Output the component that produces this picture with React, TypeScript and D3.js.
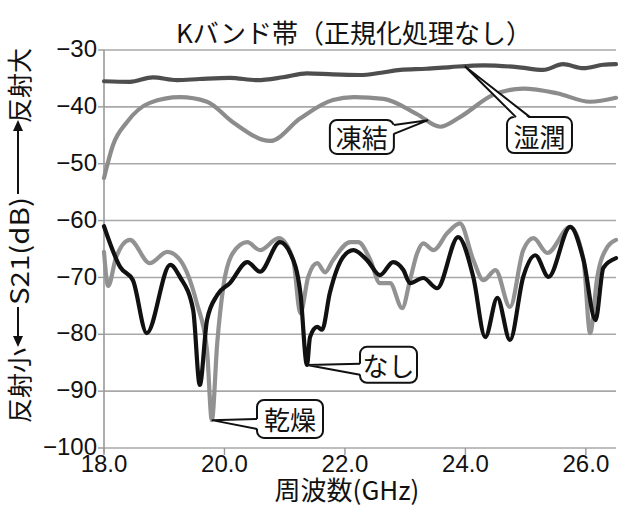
import React from "react";
import * as d3 from "d3";

// 湿潤 (wet)
const wetFreq = [18.0, 18.43, 18.81, 19.21, 19.59, 20.09, 20.54, 20.97, 21.37, 21.8, 22.25, 22.6, 22.92, 23.35, 23.75, 24.3, 24.86, 25.29, 25.62, 25.96, 26.29, 26.5];
const wetDb = [-35.5, -35.6, -34.8, -35.3, -35.1, -34.9, -35.3, -34.8, -34.1, -34.3, -34.4, -34.0, -33.5, -33.3, -33.0, -32.7, -33.0, -33.5, -32.5, -33.2, -32.6, -32.5];

// 凍結 (frozen)
const frozenFreq = [18.0, 18.15, 18.38, 18.76, 19.26, 19.71, 20.14, 20.76, 21.26, 21.8, 22.15, 22.64, 23.2, 23.58, 23.91, 24.46, 24.96, 25.52, 26.07, 26.5];
const frozenDb = [-52.5, -46.7, -42.7, -39.3, -38.3, -39.1, -42.7, -46.0, -42.0, -38.8, -38.3, -38.6, -41.3, -43.5, -41.8, -37.9, -36.8, -37.6, -39.1, -38.4];

// なし (none)
const noneFreq = [18.0, 18.27, 18.48, 18.71, 19.1, 19.26, 19.48, 19.59, 19.71, 19.88, 20.09, 20.38, 20.59, 20.92, 21.09, 21.26, 21.37, 21.42, 21.54, 21.62, 21.75, 21.97, 22.14, 22.37, 22.58, 22.8, 22.97, 23.08, 23.3, 23.53, 23.88, 24.13, 24.33, 24.53, 24.74, 24.96, 25.16, 25.38, 25.74, 25.96, 26.16, 26.29, 26.5];
const noneDb = [-61.0, -68.2, -70.5, -79.8, -67.8, -69.9, -75.7, -88.9, -77.5, -73.1, -71.0, -67.3, -69.0, -63.8, -65.7, -72.7, -85.4, -80.5, -78.7, -79.2, -72.7, -66.4, -65.2, -67.0, -69.6, -67.3, -68.7, -71.0, -70.1, -71.9, -62.9, -69.9, -80.5, -73.6, -81.0, -69.9, -66.1, -69.9, -61.1, -66.9, -77.5, -68.3, -66.6];

// 乾燥 (dry)
const dryFreq = [18.0, 18.07, 18.2, 18.43, 18.76, 19.05, 19.26, 19.54, 19.71, 19.79, 19.88, 19.98, 20.14, 20.38, 20.59, 20.9, 21.14, 21.26, 21.39, 21.54, 21.67, 21.8, 22.09, 22.22, 22.42, 22.58, 22.75, 22.95, 23.08, 23.2, 23.3, 23.47, 23.7, 23.91, 24.13, 24.3, 24.5, 24.74, 24.96, 25.13, 25.36, 25.74, 25.96, 26.07, 26.19, 26.36, 26.5];
const dryDb = [-65.5, -71.5, -66.5, -63.4, -67.5, -65.5, -66.9, -74.5, -82.8, -95.1, -81.5, -71.7, -65.7, -63.8, -65.2, -63.1, -66.9, -76.3, -69.9, -67.5, -69.1, -67.0, -63.8, -63.8, -66.9, -71.0, -71.0, -75.4, -70.5, -65.7, -64.0, -65.2, -62.2, -60.5, -66.9, -70.5, -68.7, -75.2, -65.2, -63.1, -65.7, -61.1, -66.9, -79.8, -69.9, -64.6, -63.4];

const xTicks = [18, 20, 22, 24, 26];
const yTicks = [-100, -90, -80, -70, -60, -50, -40, -30];

const W = 620;
const H = 512;
const JP = "'Noto Sans CJK JP', 'Noto Sans', sans-serif";
const NUM = "'Liberation Sans', Arial, sans-serif";

const x = d3.scaleLinear().domain([18, 26.5]).range([104, 616]);
const y = d3.scaleLinear().domain([-100, -30]).range([448, 50]);

const zip = (f: number[], v: number[]) => f.map((d, i) => [d, v[i]] as [number, number]);
const line = d3
  .line<[number, number]>()
  .x((d) => x(d[0]))
  .y((d) => y(d[1]))
  .curve(d3.curveMonotoneX);

// value of a series at a frequency (for callout tips)
const at = (f: number[], v: number[], q: number) => d3.scaleLinear().domain(f).range(v)(q);

const series = [
  { name: "乾燥", freq: dryFreq, db: dryDb, color: "#929292" },
  { name: "なし", freq: noneFreq, db: noneDb, color: "#111111" },
  { name: "凍結", freq: frozenFreq, db: frozenDb, color: "#8c8c8c" },
  { name: "湿潤", freq: wetFreq, db: wetDb, color: "#4e4e4e" },
];

// callout layout: tip frequency on the series, box top-left in data units,
// and where the tail joins the box
const callouts = [
  { name: "凍結", tipF: 23.38, boxF: 21.75, boxDb: -42.3, w: 64, h: 34, side: "right", b1: 5, b2: 14 },
  { name: "湿潤", tipF: 23.99, boxF: 24.69, boxDb: -41.8, w: 65, h: 36, side: "top", b1: 9, b2: 23 },
  { name: "なし", tipF: 21.37, boxF: 22.25, boxDb: -82.2, w: 57, h: 36, side: "left", b1: 17, b2: 28 },
  { name: "乾燥", tipF: 19.79, boxF: 20.54, boxDb: -91.55, w: 66, h: 38, side: "left", b1: 19, b2: 29 },
];

const Callout = ({ c }) => {
  const s = series.find((d) => d.name === c.name)!;
  const tx = x(c.tipF);
  const ty = y(at(s.freq, s.db, c.tipF));
  const bx = x(c.boxF);
  const by = y(c.boxDb);
  let p1: [number, number], p2: [number, number], q1: [number, number], q2: [number, number];
  if (c.side === "left") {
    p1 = [bx, by + c.b1]; p2 = [bx, by + c.b2];
    q1 = [bx + 2, by + c.b1]; q2 = [bx + 2, by + c.b2];
  } else if (c.side === "right") {
    p1 = [bx + c.w, by + c.b1]; p2 = [bx + c.w, by + c.b2];
    q1 = [bx + c.w - 2, by + c.b1]; q2 = [bx + c.w - 2, by + c.b2];
  } else {
    p1 = [bx + c.b1, by]; p2 = [bx + c.b2, by];
    q1 = [bx + c.b1, by + 2]; q2 = [bx + c.b2, by + 2];
  }
  return (
    <g>
      <rect x={bx} y={by} width={c.w} height={c.h} rx={7} fill="#fff" stroke="#111" strokeWidth={2} />
      <path d={`M${tx},${ty}L${q1}L${q2}Z`} fill="#fff" />
      <path d={`M${p1}L${tx},${ty}L${p2}`} fill="none" stroke="#111" strokeWidth={2} strokeLinejoin="miter" />
      <text
        x={bx + c.w / 2}
        y={by + c.h / 2}
        textAnchor="middle"
        dominantBaseline="central"
        fontFamily={JP}
        fontSize={26}
        fill="#111"
      >
        {c.name}
      </text>
    </g>
  );
};

export default function App() {
  const fmt = d3.format(".1f");
  return (
    <svg width={W} height={H} style={{ position: "absolute", left: 0, top: 0, background: "#fff" }}>
      <rect width={W} height={H} fill="#fff" />
      {/* grid */}
      {yTicks.map((t) => (
        <g key={t}>
          <line x1={x(18)} x2={x(26.5)} y1={y(t)} y2={y(t)} stroke="#a8a8a8" strokeWidth={1.6} />
          <line x1={x(18) - 6} x2={x(18)} y1={y(t)} y2={y(t)} stroke="#999" strokeWidth={1.4} />
          <text x={97} y={y(t)} dy="0.3em" textAnchor="end" fontFamily={NUM} fontSize={24} fill="#111">
            {d3.format("d")(t).replace("-", "\u2212")}
          </text>
        </g>
      ))}
      <line x1={x(18)} x2={x(18)} y1={y(-30)} y2={y(-100) + 5} stroke="#999" strokeWidth={1.6} />
      {xTicks.map((t) => (
        <g key={t}>
          <line x1={x(t)} x2={x(t)} y1={y(-100)} y2={y(-100) + 7} stroke="#999" strokeWidth={1.4} />
          <text x={x(t)} y={472} textAnchor="middle" fontFamily={NUM} fontSize={24} fill="#111">
            {fmt(t)}
          </text>
        </g>
      ))}

      {/* series */}
      {series.map((s) => (
        <path
          key={s.name}
          d={line(zip(s.freq, s.db))!}
          fill="none"
          stroke={s.color}
          strokeWidth={4.2}
          strokeLinejoin="round"
          strokeLinecap="round"
        />
      ))}

      {callouts.map((c) => (
        <Callout key={c.name} c={c} />
      ))}

      {/* title */}
      <text x={354} y={43} textAnchor="middle" fontFamily={JP} fontSize={26} fill="#111">
        Kバンド帯（正規化処理なし）
      </text>
      <text x={347} y={500} textAnchor="middle" fontFamily={JP} fontSize={26} fill="#111">
        周波数(GHz)
      </text>

      {/* y title */}
      <g transform="translate(18,423) rotate(-90)" fontFamily={JP} fontSize={25} fill="#111">
        <text x={0} y={0} dominantBaseline="central">反射小</text>
        <line x1={82} x2={116} y1={0} y2={0} stroke="#111" strokeWidth={2} />
        <polygon points="76,0 87,-5 87,5" fill="#111" />
        <text x={118} y={0} dominantBaseline="central" textLength={108} lengthAdjust="spacingAndGlyphs">
          S21(dB)
        </text>
        <line x1={229} x2={296} y1={0} y2={0} stroke="#111" strokeWidth={2} />
        <polygon points="303,0 292,-5 292,5" fill="#111" />
        <text x={375} y={0} textAnchor="end" dominantBaseline="central">反射大</text>
      </g>
    </svg>
  );
}
